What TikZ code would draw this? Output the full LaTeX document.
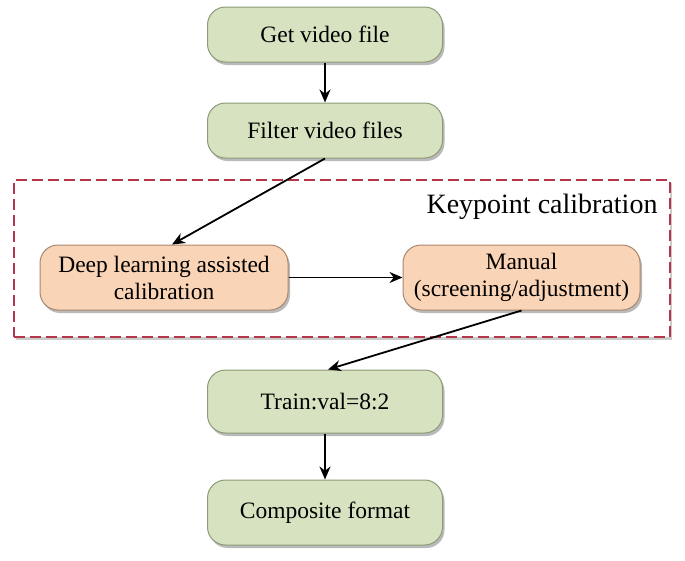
\documentclass[tikz,border=0pt]{standalone}
\usepackage{fontspec}
\setmainfont{Liberation Serif}
\usetikzlibrary{arrows.meta,shadows}
\definecolor{gfill}{HTML}{D7E2C0}
\definecolor{gdraw}{HTML}{8C9A78}
\definecolor{ofill}{HTML}{FAD4B6}
\definecolor{odraw}{HTML}{A8876E}
\definecolor{dashred}{HTML}{B5364A}
\tikzset{
  x=1pt, y=-1pt,
  greenbox/.style={draw=gdraw, line width=1pt, fill=gfill, rounded corners=18pt,
    minimum width=235pt, minimum height=55pt, align=center, inner sep=2pt, font=\fontsize{23.5}{27}\selectfont,
    drop shadow={shadow xshift=2pt, shadow yshift=-3pt, fill=black!45, opacity=0.6}},
  orangebox/.style={draw=odraw, line width=1pt, fill=ofill, rounded corners=18pt,
    minimum height=65pt, align=center, inner sep=2pt, font=\fontsize{23.5}{27}\selectfont,
    drop shadow={shadow xshift=2pt, shadow yshift=-3pt, fill=black!45, opacity=0.6}},
  conn/.style={-{Stealth[length=13pt,width=11pt]}, line width=1.8pt, black},
}
\begin{document}
\begin{tikzpicture}
\useasboundingbox (0,0) rectangle (685,560);
\fill[white] (0,0) rectangle (685,560);
% dashed group
\node[draw=dashred, dash pattern=on 11pt off 5pt, line width=1.8pt, minimum width=656pt, minimum height=157pt,
  drop shadow={shadow xshift=2pt, shadow yshift=-3pt, fill=black!40, opacity=0.5}, fill=white]
  (grp) at (342,258.5) {};
\node[anchor=east, font=\fontsize{28}{32}\selectfont] (lbl) at (661,207) {Keypoint calibration};

\node[greenbox] (get) at (325,34.5) {Get video file};
\node[greenbox] (filt) at (325,130.5) {Filter video files};
\node[orangebox, minimum width=248pt] (deep) at (164,277.5) {Deep learning assisted\\calibration};
\node[orangebox, minimum width=237pt] (man) at (521.5,277.5) {Manual\\(screening/adjustment)};
\node[greenbox, minimum height=63pt] (train) at (325,401.5) {Train:val=8:2};
\node[greenbox, minimum height=65pt] (comp) at (325,512.5) {Composite format};

\draw[conn] (get) -- (filt);
\draw[conn] (filt.south) -- ([xshift=8pt]deep.north);
\draw[conn] (deep) -- (man);
\draw[conn] (man.south) -- ([xshift=3pt]train.north);
\draw[conn] (train) -- (comp);
\end{tikzpicture}
\end{document}
